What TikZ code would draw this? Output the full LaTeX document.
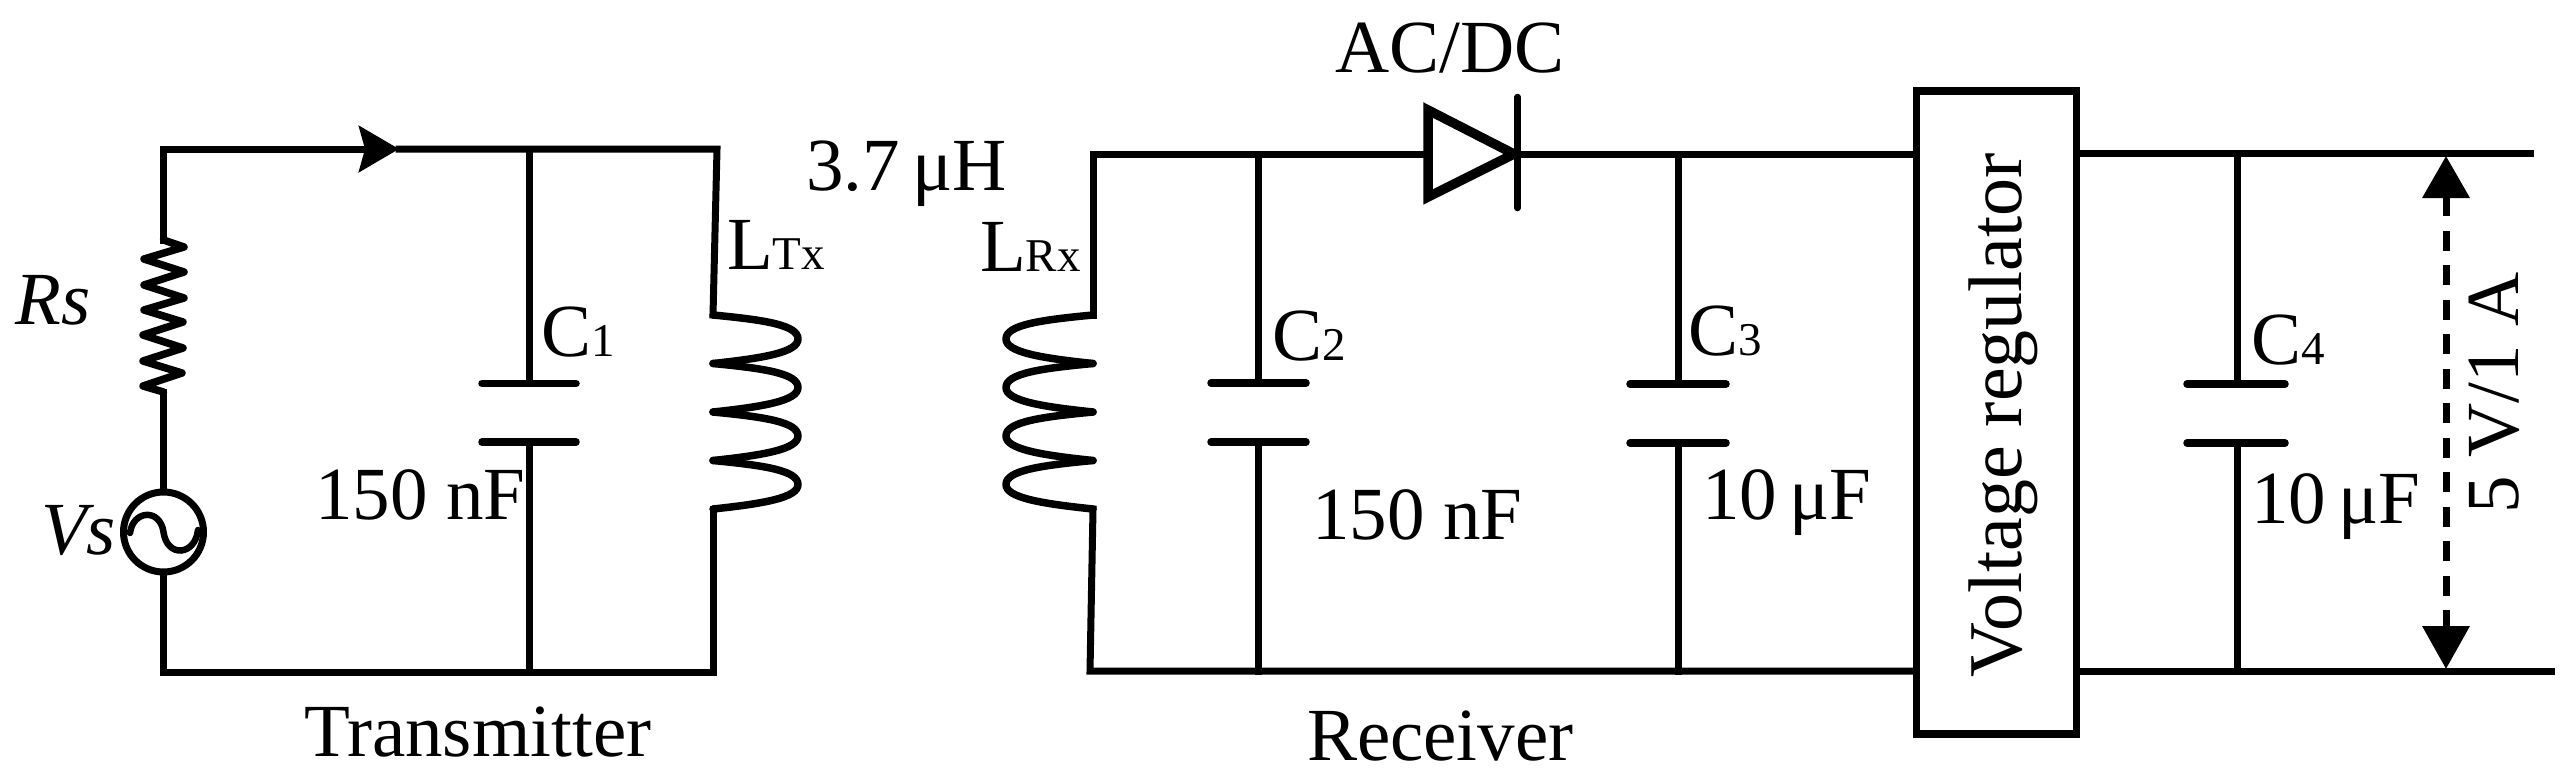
\documentclass[tikz,border=0pt]{standalone}
\usepackage{fontspec}
\setmainfont{Liberation Serif}
\usetikzlibrary{arrows.meta}
\newcommand{\bigf}{\fontsize{75}{80}\selectfont}
\newcommand{\regf}{\fontsize{76}{80}\selectfont}
\newcommand{\subf}[1]{{\fontsize{47}{47}\selectfont #1}}
\newcommand{\nsp}{\hspace{.17em}}
\tikzset{
  wire/.style={line width=7pt,line join=miter,line cap=rect},
  plate/.style={line width=7.5pt,line cap=round},
  coil/.style={line width=7.5pt,line cap=round,line join=round},
  lbl/.style={anchor=base west,inner sep=0pt,outer sep=0pt,font=\bigf},
  vlbl/.style={anchor=base west,inner sep=0pt,outer sep=0pt,font=\bigf,rotate=90},
  regbox/.style={draw,line width=7.5pt,minimum width=160pt,minimum height=643pt,inner sep=0pt,fill=white},
}
\begin{document}
\begin{tikzpicture}[x=1pt,y=-1pt]
\useasboundingbox[fill=white] (0,0) rectangle (2574,782);
% Transmitter junctions
\coordinate (tl) at (163.5,149);
\coordinate (ta) at (399,149);
\coordinate (tc) at (529,149);
\coordinate (tr) at (717,149);
\coordinate (bl) at (163.5,672);
\coordinate (bc) at (529,672);
\coordinate (br) at (713,672);
\coordinate (rtop) at (163.5,240);
\coordinate (rbot) at (163.5,392);
\coordinate (cp1) at (529,383.5);
\coordinate (cm1) at (529,442);
\coordinate (ltt) at (713,315);
\coordinate (ltb) at (713,509);
\node[circle,draw,line width=7pt,minimum size=80pt,inner sep=0pt] (vs) at (163.5,532) {};
% Transmitter wires
\draw[wire,-{Stealth[length=40pt,width=46pt,inset=6pt]}] (rtop) -- (tl) -- (ta);
\draw[wire] (ta) -- (tr) -- (ltt);
\draw[wire] (ltb) -- (br) -- (bl) -- (vs.south);
\draw[wire] (vs.north) -- (rbot);
\draw[wire] (tc) -- (cp1);
\draw[wire] (cm1) -- (bc);
\draw[plate] (482,383.5) -- (576,383.5);
\draw[plate] (482,442) -- (576,442);
% Resistor
\draw[coil] (rtop) -- (184,247) -- (144,259) -- (184,272) -- (144,285) -- (184,298) -- (144,310) -- (183,322) -- (143,335) -- (183,348) -- (143,361) -- (182,373) -- (143,386) -- (rbot);
% Source sine
\draw[line width=6.5pt,line cap=round] (130,533) .. controls (133,510) and (160,508) .. (163.5,532) .. controls (167,558) and (195,556) .. (198,530);
% Tx coil
\foreach \o in {0,48.5,97,145.5}{
  \draw[coil] (713,315+\o) .. controls (765,320+\o) and (798,325+\o) .. (798,339+\o) .. controls (798,352+\o) and (765,358+\o) .. (713,363.5+\o);
}
% Receiver junctions
\coordinate (a1) at (1093,154);
\coordinate (a2) at (1258,154);
\coordinate (da) at (1427,154);
\coordinate (dk) at (1517,154);
\coordinate (a3) at (1678,154);
\coordinate (a4) at (1916,154);
\coordinate (b1) at (1090,671);
\coordinate (b2) at (1258,671);
\coordinate (b3) at (1678,671);
\coordinate (b4) at (1916,671);
\coordinate (a5) at (2077,153);
\coordinate (a6) at (2237.5,153);
\coordinate (a7) at (2530,153);
\coordinate (b5) at (2077,671);
\coordinate (b6) at (2237.5,671);
\coordinate (b7) at (2551,671);
\coordinate (lrt) at (1093,315);
\coordinate (lrb) at (1093,509);
\coordinate (vt) at (2446,156);
\coordinate (vb) at (2446,669);
\draw[wire] (lrt) -- (a1) -- (da);
\draw[wire] (dk) -- (a4);
\draw[wire] (lrb) -- (b1) -- (b4);
\draw[wire] (a2) -- (1258,383);
\draw[wire] (1258,442) -- (b2);
\draw[wire] (a3) -- (1678,384);
\draw[wire] (1678,443) -- (b3);
\draw[wire] (a5) -- (a7);
\draw[wire] (b5) -- (b7);
\draw[wire] (a6) -- (2237.5,384);
\draw[wire] (2237.5,443) -- (b6);
\draw[plate] (1211,383) -- (1306,383);
\draw[plate] (1211,442) -- (1306,442);
\draw[plate] (1630,384) -- (1726,384);
\draw[plate] (1630,443) -- (1726,443);
\draw[plate] (2187,384) -- (2285,384);
\draw[plate] (2187,443) -- (2285,443);
% Rx coil
\foreach \o in {0,48.5,97,145.5}{
  \draw[coil] (1093,315+\o) .. controls (1040,320+\o) and (1006,325+\o) .. (1006,339+\o) .. controls (1006,352+\o) and (1040,358+\o) .. (1093,363.5+\o);
}
% Diode
\draw[line width=9.5pt,line join=miter] (1428,110) -- (1514,154) -- (1428,197) -- cycle;
\draw[line width=6.5pt,line cap=round] (1517.5,97) -- (1517.5,208);
% Regulator
\node[regbox] (reg) at (1996.5,412.5) {};
\node[vlbl,font=\regf] (regt) at (2021,677) {Voltage regulator};
% Voltage arrow
\draw[line width=7pt,dash pattern=on 20pt off 14.5pt,{Triangle[length=42pt,width=46pt]}-{Triangle[length=43pt,width=46pt]}] (vt) -- (vb);
% Labels
\node[lbl,font=\bigf\itshape] (rs) at (16,324) {Rs};
\node[lbl,font=\bigf\itshape] (vsl) at (41,554) {Vs};
\node[lbl] (c1) at (541,356) {C\subf{1}};
\node[lbl] (c1v) at (315,519.5) {150 nF};
\node[lbl] (ltx) at (727,269) {L\subf{Tx}};
\node[lbl] (lval) at (806,190.5) {3.7\nsp μH};
\node[lbl] (lrx) at (980,271) {L\subf{Rx}};
\node[lbl] (acdc) at (1335,72) {AC/DC};
\node[lbl] (c2) at (1272,360) {C\subf{2}};
\node[lbl] (c2v) at (1312,539) {150 nF};
\node[lbl] (c3) at (1688,355) {C\subf{3}};
\node[lbl] (c3v) at (1702,519.5) {10\nsp μF};
\node[lbl] (c4) at (2251,364) {C\subf{4}};
\node[lbl] (c4v) at (2251,523) {10\nsp μF};
\node[vlbl] (vout) at (2518,513.5) {5 V/1 A};
\node[lbl] (tx) at (304,756) {Transmitter};
\node[lbl] (rx) at (1307,760.5) {Receiver};
\end{tikzpicture}
\end{document}
